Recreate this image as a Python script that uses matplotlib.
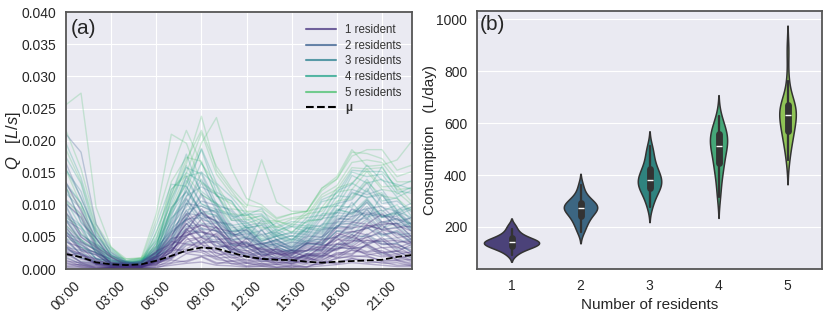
import numpy as np
import pandas as pd
import matplotlib
matplotlib.use("Agg")
import matplotlib.pyplot as plt
from matplotlib.lines import Line2D
import seaborn as sns

# ---------------- data ----------------
hours = list(range(24))
tick_hours = [0, 3, 6, 9, 12, 15, 18, 21]
tick_labels = ["00:00", "03:00", "06:00", "09:00", "12:00", "15:00", "18:00", "21:00"]
group_labels = ["1 resident", "2 residents", "3 residents", "4 residents", "5 residents"]

# hourly flow traces, in 1e-3 L/s
g1_traces = [
    [3.1,2.4,0.9,0.7,0.3,0.6,1.9,4.8,5.2,6.1,3.2,3.9,2.1,2.8,1.5,2.6,2.0,3.4,3.1,5.0,4.1,4.6,2.7,3.9],
    [1.2,1.0,0.2,0.3,0.1,0.4,0.6,2.9,3.1,4.6,2.4,2.2,1.1,1.6,0.7,1.2,0.9,2.1,2.0,3.4,2.2,2.6,1.4,1.5],
    [6.4,3.8,2.4,0.6,0.7,0.4,1.3,2.6,6.2,6.8,6.5,3.4,3.9,3.1,3.0,1.7,3.0,3.0,5.6,4.9,6.9,6.1,5.6,4.0],
    [0.6,0.7,0.1,0.2,0.1,0.1,0.6,1.0,2.4,2.1,2.0,0.8,0.9,0.5,0.7,0.3,0.8,0.7,1.8,1.9,2.1,1.2,1.3,0.7],
    [4.2,3.4,1.2,1.1,0.4,1.0,2.6,5.2,8.6,5.8,5.1,2.9,4.8,2.5,2.7,1.4,2.4,2.4,4.6,4.4,4.9,5.9,4.2,4.3],
    [2.8,1.0,0.8,0.3,0.4,0.2,0.9,1.5,3.7,4.0,5.6,3.1,2.9,1.6,3.3,1.8,1.9,1.0,2.3,2.2,3.9,2.6,2.9,2.4],
    [8.9,5.0,3.3,0.8,0.7,0.3,1.1,1.7,4.6,5.0,6.6,4.0,4.1,2.1,2.5,1.3,2.2,2.0,3.8,4.1,6.7,7.0,7.1,5.0],
    [1.4,0.5,0.5,0.2,0.3,0.2,1.9,3.0,5.0,2.8,2.6,1.3,1.5,0.8,1.1,0.9,1.7,1.7,3.3,3.2,3.5,2.1,2.4,1.3],
    [3.4,1.5,1.1,0.4,0.5,0.3,1.2,2.2,5.3,5.8,5.3,2.6,2.6,1.5,1.8,1.1,2.3,2.1,3.9,3.5,5.1,3.3,3.5,2.2],
    [10.2,8.1,3.4,1.9,0.6,0.8,0.8,3.7,5.9,9.4,6.4,5.8,3.5,4.0,2.6,2.9,2.8,4.5,5.0,7.3,7.0,8.6,6.5,6.7],
    [0.4,0.4,0.1,0.2,0.0,0.2,0.2,0.9,1.3,2.0,1.0,0.9,0.4,0.5,0.3,0.4,0.4,0.9,1.0,1.7,1.0,1.1,0.6,0.6],
    [5.4,2.8,2.2,0.6,0.7,0.4,2.2,3.7,5.8,4.0,4.3,4.0,3.4,2.0,2.4,2.2,3.7,3.3,4.9,3.2,4.5,4.3,4.5,3.9],
    [2.3,1.1,0.9,0.3,0.4,0.3,1.5,2.6,6.3,3.8,3.2,1.7,2.1,1.1,1.5,0.8,1.6,1.3,2.6,2.4,3.8,2.5,2.8,1.8],
    [7.5,4.3,2.9,0.9,0.9,0.6,1.8,3.3,7.6,8.8,7.4,4.2,4.3,2.7,3.1,2.3,4.1,3.9,6.4,6.4,6.8,6.2,6.4,4.5],
    [0.9,0.3,0.3,0.1,0.1,0.1,0.4,1.4,1.1,1.9,0.8,1.3,0.5,0.9,0.3,0.6,0.3,1.2,0.8,1.6,1.4,0.9,1.0,0.5],
    [2.0,2.6,0.7,0.5,0.2,0.5,0.7,2.1,2.8,3.9,2.0,2.8,1.3,2.0,0.9,1.7,1.2,2.6,1.7,3.0,2.6,2.9,1.5,2.2],
    [4.8,2.2,1.6,0.5,0.5,0.4,2.8,3.9,7.1,4.9,4.1,3.1,2.4,3.3,1.9,2.9,1.8,3.6,3.9,5.4,3.7,4.9,3.3,4.2],
    [1.7,0.8,0.6,0.2,0.2,0.3,1.1,3.4,2.5,3.0,1.7,1.9,0.9,1.3,1.1,0.8,1.4,1.5,2.4,2.9,2.4,1.9,2.1,1.1],
    [0.3,0.2,0.1,0.1,0.0,0.1,0.3,0.6,0.9,1.1,0.6,0.5,0.3,0.4,0.2,0.2,0.3,0.5,0.7,1.0,0.8,0.6,0.4,0.4],
    [5.9,3.1,2.6,1.0,0.6,0.5,1.5,3.0,5.0,7.8,4.6,4.8,2.8,3.4,2.3,2.1,3.3,2.9,5.2,5.9,5.3,6.8,4.9,5.2],
    [2.6,1.8,0.8,0.6,0.3,0.5,2.1,4.3,3.9,3.4,2.9,2.3,1.9,1.5,1.7,1.3,2.2,1.9,3.2,3.6,2.7,3.4,2.3,2.7],
    [1.0,0.6,0.4,0.2,0.2,0.2,0.8,1.8,2.9,2.6,1.5,1.2,1.0,0.7,0.8,0.6,1.1,1.0,1.6,2.1,1.9,1.4,1.4,0.9],
    [3.8,2.0,1.4,0.4,0.4,0.4,1.0,2.0,4.2,4.9,3.6,3.5,1.8,2.4,1.3,1.9,1.6,2.8,2.9,4.3,4.5,3.9,3.8,2.9],
    [13.5,9.0,4.8,1.8,0.8,0.6,1.2,2.8,5.6,6.9,5.9,4.4,3.6,3.0,2.4,2.5,2.9,3.6,4.5,5.8,6.3,7.4,6.8,5.9],
]
g2_traces = [
    [5.2,4.1,1.6,1.3,0.5,1.0,3.3,5.9,9.1,6.4,5.9,3.6,4.0,2.6,3.0,2.5,4.0,3.8,6.0,6.2,7.8,5.4,5.7,4.3],
    [3.6,1.7,1.3,0.4,0.5,0.4,1.9,4.2,7.8,8.0,6.6,3.8,3.4,2.2,2.5,1.7,2.9,2.8,5.0,4.7,5.3,3.8,4.0,2.6],
    [8.4,5.0,3.5,0.9,0.9,0.5,1.6,3.0,6.6,7.0,7.1,4.5,5.0,3.4,3.6,2.4,3.9,4.1,6.8,7.2,9.2,7.0,7.1,6.4],
    [21.0,18.2,7.0,2.6,1.1,1.0,1.3,4.4,6.2,8.8,5.9,5.5,3.6,4.0,2.6,3.0,2.8,4.7,5.0,7.0,6.4,6.9,5.3,5.6],
    [2.5,1.2,1.0,0.3,0.4,0.3,1.3,2.6,6.0,5.7,5.0,2.6,2.9,1.7,2.1,1.3,2.4,2.2,4.0,3.8,5.5,4.0,4.0,2.6],
    [6.9,4.1,3.0,0.8,0.8,0.5,2.5,4.9,10.2,9.8,8.7,5.4,5.3,3.5,4.0,2.8,4.3,4.1,6.6,6.6,8.6,8.1,8.2,6.1],
    [4.4,2.2,1.6,0.5,0.5,0.4,1.8,3.5,7.1,5.0,4.5,2.8,3.3,6.2,3.0,2.9,2.4,3.9,3.5,5.3,5.0,5.6,4.1,4.7],
    [9.9,5.4,3.8,1.1,1.0,0.5,2.1,4.4,8.7,8.3,7.6,4.9,5.6,3.7,4.3,2.9,4.5,4.6,7.4,7.4,8.0,6.1,8.9,6.8],
    [1.9,0.8,0.7,0.2,0.3,0.2,1.1,1.8,4.0,4.2,4.3,2.1,2.4,1.2,1.7,1.0,2.1,1.8,3.5,3.1,3.7,2.3,2.8,1.6],
    [12.8,7.2,4.8,1.4,1.2,0.6,1.8,3.3,8.3,10.6,9.9,5.8,6.1,3.9,4.6,3.1,5.0,5.0,7.8,7.8,10.4,7.3,7.9,5.8],
    [3.4,2.9,0.9,0.8,0.3,0.7,2.9,5.4,7.7,5.1,5.0,3.1,3.5,2.2,2.8,2.2,3.5,3.1,5.2,4.9,6.6,4.6,4.9,3.5],
    [7.6,6.2,2.4,1.6,0.6,1.2,2.6,6.8,11.0,7.9,8.2,5.0,6.2,4.0,4.4,3.4,5.2,4.9,7.6,8.8,9.4,9.8,7.5,8.0],
    [2.9,2.2,0.8,0.6,0.3,0.5,1.6,3.8,5.2,6.4,3.6,3.4,2.0,2.6,1.6,2.1,1.8,3.1,3.0,4.6,4.0,4.4,3.1,3.4],
    [10.8,8.6,3.8,2.2,0.9,1.2,2.0,5.8,7.8,11.8,7.4,7.0,4.6,5.4,3.5,4.2,3.9,6.2,6.4,9.4,8.4,9.2,7.0,8.1],
    [5.8,3.0,2.2,0.7,0.6,0.5,2.4,4.6,8.0,6.2,6.0,3.9,4.2,3.0,3.4,2.6,3.9,3.7,5.9,5.7,6.4,5.3,6.0,4.6],
    [16.5,11.0,5.8,2.0,1.1,0.8,1.6,4.1,7.0,8.6,7.4,5.6,4.8,4.2,3.6,3.4,4.0,5.0,6.6,8.2,8.8,8.4,7.8,7.0],
]
g3_traces = [
    [7.8,4.6,3.1,0.8,0.8,0.6,3.6,7.4,12.2,9.1,8.3,5.2,5.8,3.8,4.6,3.5,5.7,5.4,8.3,8.2,10.8,8.2,8.8,6.3],
    [10.1,7.9,3.0,1.8,0.6,1.1,1.6,6.3,8.4,13.4,9.0,8.4,5.4,6.0,3.9,4.7,4.1,7.0,7.2,10.4,7.7,11.6,8.3,9.4],
    [5.4,3.0,2.3,0.6,0.8,0.5,3.1,6.2,10.8,7.7,7.2,4.4,4.8,3.2,3.9,3.0,4.8,4.6,7.2,7.0,9.4,6.4,7.2,5.0],
    [13.1,10.2,4.0,2.2,0.8,1.3,1.8,6.8,9.7,15.1,10.2,9.0,6.4,6.8,4.5,5.2,4.9,7.9,8.2,12.0,11.1,11.6,8.7,9.7],
    [4.5,2.4,1.8,0.5,0.7,0.4,2.6,5.7,12.9,8.7,7.2,4.6,5.1,3.5,4.0,2.9,4.5,4.2,6.8,6.3,8.6,6.0,6.6,4.8],
    [9.6,5.3,3.7,0.9,1.0,0.7,4.1,8.1,14.4,10.1,9.3,5.9,6.1,4.3,5.1,3.7,5.9,5.6,8.8,8.5,10.7,8.1,9.1,7.0],
    [5.6,4.6,1.6,1.3,0.5,1.0,1.4,5.7,7.8,11.4,7.3,6.8,4.8,7.7,4.6,5.2,4.2,6.5,6.4,9.3,8.1,8.8,6.4,7.3],
    [15.4,12.1,4.9,2.6,1.0,1.2,2.0,7.9,10.2,14.0,9.8,9.3,6.8,7.2,5.2,5.6,5.4,8.3,8.7,12.4,11.6,12.4,9.2,10.3],
    [3.4,1.7,1.3,0.4,0.6,0.4,2.3,4.8,10.3,7.2,6.2,3.7,4.1,2.7,3.4,2.6,4.0,3.8,5.9,5.4,7.5,5.1,5.9,4.0],
    [8.6,6.8,2.6,1.5,0.6,1.0,2.8,9.6,12.0,8.8,9.2,5.4,6.6,4.4,5.1,4.0,6.3,5.8,9.1,9.9,12.2,9.6,9.0,8.0],
    [6.6,3.4,2.6,0.7,0.8,0.5,2.2,4.6,9.2,9.8,8.9,5.2,6.0,3.8,4.6,3.3,5.4,5.1,8.0,7.6,9.8,7.2,7.8,5.9],
    [11.8,9.4,3.6,1.9,0.8,1.2,2.4,7.2,11.4,12.8,11.6,7.6,7.4,5.4,5.8,4.6,6.4,6.8,10.2,10.8,13.4,10.2,10.6,8.8],
]
g4_traces = [
    [10.6,6.5,4.3,1.1,1.1,0.9,5.0,10.2,16.1,12.1,10.3,6.8,7.2,5.1,6.2,5.0,7.6,7.7,11.4,11.2,14.0,10.6,11.1,8.1],
    [13.4,10.3,4.5,2.4,0.9,1.4,2.4,9.4,13.2,18.6,12.0,10.6,7.1,7.9,5.4,6.6,5.8,9.5,10.2,14.6,13.4,14.0,11.2,12.3],
    [7.6,4.3,3.1,0.8,1.0,0.7,5.8,11.6,17.9,11.6,10.1,6.4,6.8,4.8,5.7,4.5,6.9,6.6,9.9,9.6,12.6,9.0,10.0,7.4],
    [17.4,13.3,5.2,3.0,1.1,1.5,2.0,7.8,11.2,16.6,11.4,10.6,7.6,8.4,5.8,7.0,6.7,10.5,11.1,15.1,14.4,14.8,11.7,12.8],
    [6.1,3.4,2.6,0.7,1.0,0.9,6.8,13.2,12.9,8.7,8.4,5.8,6.4,4.4,5.2,4.2,6.4,6.0,9.2,8.8,11.0,8.2,8.8,6.4],
    [12.6,7.4,4.8,1.3,1.2,0.8,4.1,8.8,14.4,15.1,13.0,8.2,8.4,9.4,6.0,6.7,6.4,9.6,9.8,13.4,12.0,16.0,12.2,11.8],
    [8.0,6.6,2.5,1.5,0.7,1.3,3.4,10.9,15.8,14.8,9.3,8.6,6.4,6.9,5.1,5.8,5.8,8.6,8.8,11.8,11.2,11.9,9.1,9.6],
    [19.6,14.2,6.4,3.2,1.3,1.6,2.6,8.6,12.2,18.8,13.4,11.2,8.4,8.6,6.4,7.4,7.2,10.8,11.8,15.4,15.2,15.2,12.8,13.8],
    [4.8,3.8,1.6,1.0,0.5,1.1,4.6,9.2,13.8,10.2,8.8,6.0,6.6,4.6,5.4,4.4,6.6,6.2,9.4,8.6,10.4,8.0,8.6,6.8],
    [15.6,11.2,5.4,2.2,1.1,1.0,3.2,12.4,15.0,13.6,11.8,7.8,8.8,6.0,7.2,5.6,8.0,8.4,12.2,13.2,16.2,13.8,13.2,12.4],
]
g5_traces = [
    [25.6,27.4,9.6,3.4,1.3,1.8,4.4,13.6,17.4,16.8,11.4,10.2,8.0,8.2,6.6,7.8,8.0,11.2,12.4,15.8,15.6,15.8,12.4,12.6],
    [15.4,10.0,6.1,2.0,1.6,1.7,8.6,21.0,19.6,13.4,11.6,8.6,8.4,7.0,7.4,7.0,9.0,9.6,12.6,13.4,15.6,12.8,13.0,10.4],
    [10.6,8.4,3.6,1.8,0.9,1.4,3.6,11.0,16.4,23.8,15.4,12.2,9.0,9.0,7.4,8.0,8.4,11.6,13.0,16.6,17.0,16.6,13.6,13.6],
    [18.6,13.6,6.0,2.8,1.3,1.6,3.0,9.6,15.0,21.2,14.8,11.6,9.6,17.0,10.4,9.0,9.0,12.2,14.0,18.2,18.0,17.2,14.4,15.2],
    [8.6,5.6,3.4,1.2,1.2,1.4,7.6,15.4,21.6,16.4,13.2,9.4,9.0,7.4,7.6,6.6,8.6,9.0,12.0,12.4,15.2,12.4,12.0,10.0],
    [12.6,9.6,4.0,2.0,1.0,1.4,2.6,9.0,13.4,19.6,23.6,15.6,11.0,10.0,8.0,8.6,9.0,12.6,14.4,18.6,16.0,16.2,17.0,20.0],
    [21.6,15.6,7.0,3.4,1.6,1.7,3.6,11.6,17.0,21.6,16.0,12.6,10.0,9.6,7.8,8.6,9.0,12.6,14.0,17.6,18.6,18.6,15.4,16.2],
    [6.8,4.6,2.8,1.0,1.0,1.2,5.6,12.4,14.6,11.6,10.2,7.6,7.8,6.4,6.6,5.8,7.4,7.8,10.6,11.0,13.6,11.4,11.0,9.0],
]
mu_values = [2.35,1.85,1.05,0.74,0.63,0.74,1.30,2.05,2.90,3.35,3.20,2.55,1.95,1.60,1.45,1.40,1.15,1.00,1.15,1.25,1.35,1.45,1.90,2.20]

# daily consumption samples (L/day) per number of residents
residents = [1, 2, 3, 4, 5]
cons_1 = [92,105,112,118,121,124,127,130,133,136,138,140,142,144,146,149,152,156,160,165,171,180,192,207]
cons_2 = [180,198,212,224,234,240,248,256,262,268,271,273,276,280,285,290,295,300,308,318,335,362]
cons_3 = [277,300,318,330,340,347,355,362,368,373,378,383,390,398,407,416,423,435,450,470,490,510]
cons_4 = [316,360,395,420,435,450,468,485,500,510,515,525,535,545,555,562,570,585,600,626]
cons_5 = [459,500,530,550,560,575,590,605,620,630,636,645,655,665,672,680,688,760,880]

# ---------------- style ----------------
sns.set_style("darkgrid")
plt.rcParams["font.family"] = ["Liberation Sans", "DejaVu Sans"]
plt.rcParams["mathtext.fontset"] = "custom"
plt.rcParams["mathtext.it"] = "Liberation Sans:italic"
plt.rcParams["mathtext.rm"] = "Liberation Sans"
plt.rcParams["axes.edgecolor"] = "#555555"
plt.rcParams["axes.linewidth"] = 1.3

line_pal = sns.color_palette("viridis", 6)[:5]
viol_pal = sns.color_palette("viridis", 5)
group_alpha = [0.33, 0.28, 0.25, 0.25, 0.25]

fig = plt.figure(figsize=(8.3, 3.14), dpi=100)
ax1 = fig.add_axes([0.0795, 0.143, 0.417, 0.818])
ax2 = fig.add_axes([0.5747, 0.143, 0.4157, 0.822])

# ---------------- panel (a) ----------------
groups = [g1_traces, g2_traces, g3_traces, g4_traces, g5_traces]
order = [4, 3, 2, 1, 0]
for gi in order:
    for tr in groups[gi]:
        ax1.plot(hours, np.array(tr) * 1e-3, color=line_pal[gi], alpha=group_alpha[gi], lw=1.0)
ax1.plot(hours, np.array(mu_values) * 1e-3, color="black", ls="--", lw=1.3)

ax1.set_xlim(0, 23)
ax1.set_ylim(0, 0.040)
yt = np.arange(0, 0.0401, 0.005)
ax1.set_yticks(yt)
ax1.set_yticklabels([f"{v:.3f}" for v in yt], fontsize=10)
ax1.set_xticks(tick_hours)
ax1.set_xticklabels(tick_labels, rotation=45, fontsize=10)
ax1.set_ylabel(r"$Q\quad[L/s]$", fontsize=12)
ax1.yaxis.set_label_coords(-0.125, 0.5)
ax1.text(0.013, 0.975, "(a)", transform=ax1.transAxes, fontsize=15, va="top", ha="left")

handles = [Line2D([0], [0], color=line_pal[i], alpha=0.75, lw=1.5) for i in range(5)]
handles.append(Line2D([0], [0], color="black", ls="--", lw=1.5))
leg = ax1.legend(handles, group_labels + ["μ"], loc="upper right", fontsize=8.3,
                 frameon=False, handlelength=2.6, labelspacing=0.32,
                 bbox_to_anchor=(1.0, 0.995))
leg.get_texts()[5].set_fontweight("bold")
for t in leg.get_texts():
    t.set_color("#333333")

# ---------------- panel (b) ----------------
samples = [cons_1, cons_2, cons_3, cons_4, cons_5]
df = pd.DataFrame({
    "res": np.concatenate([[r] * len(s) for r, s in zip(residents, samples)]),
    "cons": np.concatenate(samples),
})
sns.violinplot(data=df, x="res", y="cons", hue="res", palette=viol_pal, legend=False,
               inner="box", linewidth=1.1, linecolor="#333333", width=0.8,
               common_norm=True, bw_adjust=0.9, ax=ax2)
ax2.set_ylim(38, 1031)
ax2.set_xlim(-0.5, 4.5)
ax2.set_yticks([200, 400, 600, 800, 1000])
ax2.tick_params(labelsize=10)
ax2.xaxis.grid(False)
ax2.set_xlabel("Number of residents", fontsize=11)
ax2.set_ylabel("Consumption   (L/day)", fontsize=11)
ax2.yaxis.set_label_coords(-0.115, 0.5)
ax2.text(0.008, 0.985, "(b)", transform=ax2.transAxes, fontsize=15, va="top", ha="left")

fig.savefig("out.png", dpi=100)
